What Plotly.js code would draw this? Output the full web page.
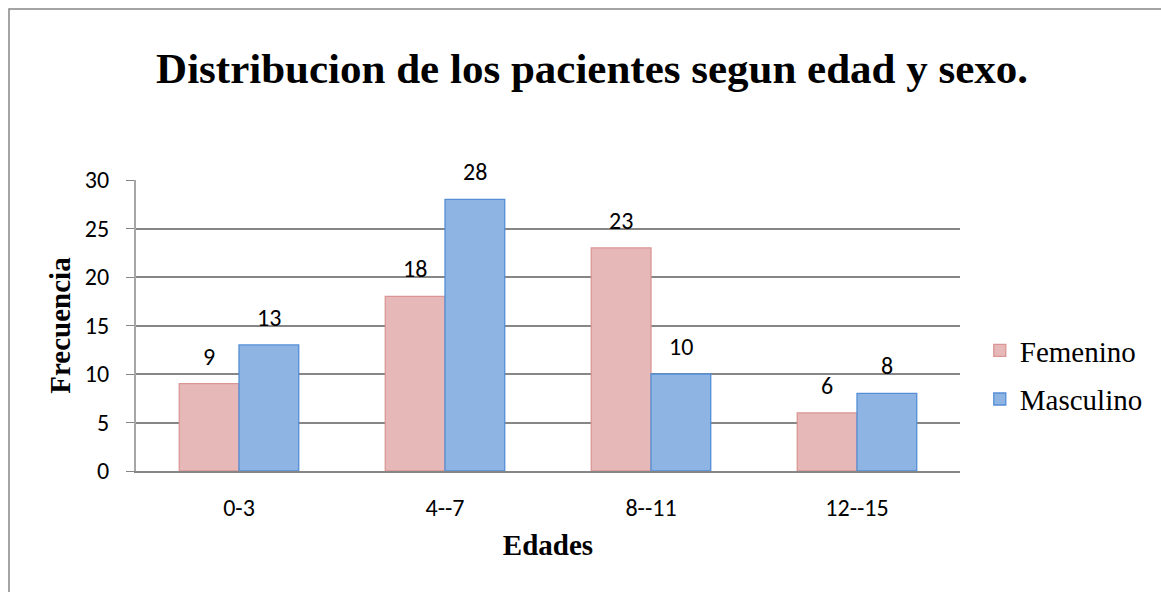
<!DOCTYPE html>
<html>
<head>
<meta charset="utf-8">
<script src="https://cdn.plot.ly/plotly-3.0.1.min.js"></script>
<style>html,body{margin:0;padding:0;background:#fff;}#chart{width:1161px;height:592px;}</style>
</head>
<body>
<div id="chart"></div>
<script>
const categories = ["0-3", "4--7", "8--11", "12--15"];
const femenino = [9, 18, 23, 6];
const masculino = [13, 28, 10, 8];
const seriesNames = ["Femenino", "Masculino"];
const yTicks = [0, 5, 10, 15, 20, 25, 30];

const W = 1161, H = 592;
const L = 136, R = 201, T = 180, B = 121;
const plotW = W - L - R, plotH = H - T - B;
const bargap = 0.42;
const barPx = plotW / categories.length * (1 - bargap) / 2;
const sans = "Carlito, 'Open Sans', sans-serif";
const serif = "'Liberation Serif', 'Times New Roman', serif";

const traces = [
  {type: "bar", name: seriesNames[0], x: categories, y: femenino,
   marker: {color: "#E6B9B8", line: {color: "#D99694", width: 1.3}}, legendgroup: "f"},
  {type: "bar", name: seriesNames[1], x: categories, y: masculino,
   marker: {color: "#8EB4E3", line: {color: "#558ED5", width: 1.3}}, legendgroup: "m"}
];

const annotations = [];
[femenino, masculino].forEach((arr, si) => {
  arr.forEach((v, i) => {
    annotations.push({x: categories[i], y: v, xref: "x", yref: "y", text: String(v),
      showarrow: false, yanchor: "bottom", xanchor: "center",
      xshift: (si === 0 ? -1 : 1) * barPx / 2, yshift: 11,
      font: {family: sans, size: 24, color: "#000"}});
  });
});

const layout = {
  width: W, height: H,
  margin: {l: L, r: R, t: T, b: B, pad: 0},
  paper_bgcolor: "#fff", plot_bgcolor: "#fff",
  barmode: "group", bargap: bargap, bargroupgap: 0,
  title: {text: "Distribucion de los pacientes segun edad y sexo.",
    font: {family: serif, size: 43, color: "#000", weight: "bold"},
    x: 0.51, xanchor: "center", y: 0.885, yanchor: "middle"},
  xaxis: {
    showline: true, linecolor: "#868686", linewidth: 2,
    ticks: "", ticklabelstandoff: 14, tickfont: {family: sans, size: 24, color: "#000"},
    title: {text: "<b>Edades</b>", font: {family: serif, size: 29, color: "#000"}, standoff: 14}
  },
  yaxis: {
    range: [0, 30], tickvals: yTicks, showgrid: true, gridcolor: "#868686", gridwidth: 1.5,
    showline: true, linecolor: "#A6A6A6", linewidth: 2, zeroline: false,
    ticks: "outside", ticklen: 8, tickcolor: "#868686", ticklabelstandoff: 12,
    tickfont: {family: sans, size: 24, color: "#000"},
    title: {text: "<b>Frecuencia</b>", font: {family: serif, size: 29, color: "#000"}, standoff: 6}
  },
  legend: {x: 1.024, xanchor: "left", y: 0.33, yanchor: "middle",
    font: {family: serif, size: 29, color: "#000"},
    tracegroupgap: 8, itemwidth: 30},
  annotations: annotations,
  shapes: [{type: "rect", xref: "paper", yref: "paper",
    x0: (9 - L) / plotW, x1: (W + 20 - L) / plotW,
    y0: (H - B - (H + 20)) / plotH, y1: (H - B - 9) / plotH,
    line: {color: "#868686", width: 1.5}, fillcolor: "rgba(0,0,0,0)", layer: "below"}]
};

Plotly.newPlot("chart", traces, layout, {displayModeBar: false});
</script>
</body>
</html>
